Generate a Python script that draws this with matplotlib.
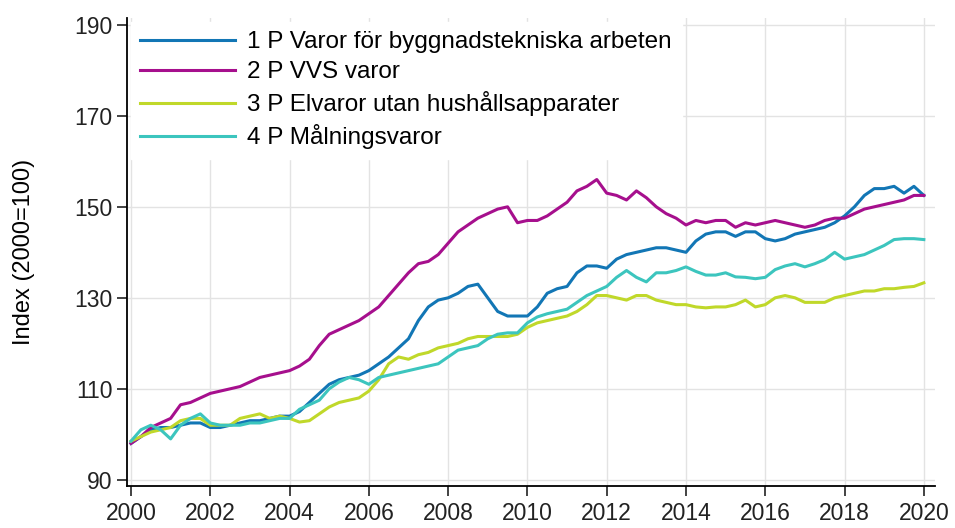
import numpy as np
import matplotlib
matplotlib.use('Agg')
import matplotlib.pyplot as plt

plt.rcParams['font.family'] = ['Liberation Sans', 'DejaVu Sans']

# quarterly readings, 2000 Q1 .. 2020 Q1
years = np.arange(81) * 0.25 + 2000

labels = ['1 P Varor för byggnadstekniska arbeten',
          '2 P VVS varor',
          '3 P Elvaror utan hushållsapparater',
          '4 P Målningsvaror']

byggvaror = [98, 99.5, 101, 101.5, 101.5, 102, 102.5, 102.5,
             101.5, 101.5, 102, 102.5, 103, 103, 103.5, 104,
             104, 105, 107, 109, 111, 112, 112.5, 113,
             114, 115.5, 117, 119, 121, 125, 128, 129.5,
             130, 131, 132.5, 133, 130, 127, 126, 126,
             126, 128, 131, 132, 132.5, 135.5, 137, 137,
             136.5, 138.5, 139.5, 140, 140.5, 141, 141, 140.5,
             140, 142.5, 144, 144.5, 144.5, 143.5, 144.5, 144.5,
             143, 142.5, 143, 144, 144.5, 145, 145.5, 146.5,
             148, 150, 152.5, 154, 154, 154.5, 153, 154.5,
             152.5]

vvs = [98, 99.5, 101.5, 102.5, 103.5, 106.5, 107, 108,
       109, 109.5, 110, 110.5, 111.5, 112.5, 113, 113.5,
       114, 115, 116.5, 119.5, 122, 123, 124, 125,
       126.5, 128, 130.5, 133, 135.5, 137.5, 138, 139.5,
       142, 144.5, 146, 147.5, 148.5, 149.5, 150, 146.5,
       147, 147, 148, 149.5, 151, 153.5, 154.5, 156,
       153, 152.5, 151.5, 153.5, 152, 150, 148.5, 147.5,
       146, 147, 146.5, 147, 147, 145.5, 146.5, 146,
       146.5, 147, 146.5, 146, 145.5, 146, 147, 147.5,
       147.5, 148.5, 149.5, 150, 150.5, 151, 151.5, 152.5,
       152.5]

elvaror = [98.5, 99.5, 100.5, 101, 101.5, 103, 103.5, 103.5,
           102, 102, 102, 103.5, 104, 104.5, 103.5, 104,
           103.5, 102.7, 103, 104.5, 106, 107, 107.5, 108,
           109.5, 112, 115.5, 117, 116.5, 117.5, 118, 119,
           119.5, 120, 121, 121.5, 121.5, 121.5, 121.5, 122,
           123.5, 124.5, 125, 125.5, 126, 127, 128.5, 130.5,
           130.5, 130, 129.5, 130.5, 130.5, 129.5, 129, 128.5,
           128.5, 128, 127.8, 128, 128, 128.5, 129.5, 128,
           128.5, 130, 130.5, 130, 129, 129, 129, 130,
           130.5, 131, 131.5, 131.5, 132, 132, 132.3, 132.5,
           133.3]

malning = [98.5, 101, 102, 101, 99, 102, 103.5, 104.5,
           102.5, 102, 102, 102, 102.5, 102.5, 103, 103.5,
           103.5, 105.5, 106.5, 107.5, 110, 111.5, 112.5, 112,
           111, 112.5, 113, 113.5, 114, 114.5, 115, 115.5,
           117, 118.5, 119, 119.5, 121, 122, 122.3, 122.3,
           124.5, 125.8, 126.5, 127, 127.5, 129, 130.5, 131.5,
           132.5, 134.5, 136, 134.5, 133.5, 135.5, 135.5, 136,
           136.8, 135.8, 135, 135, 135.5, 134.6, 134.5, 134.2,
           134.5, 136.2, 137, 137.5, 136.8, 137.5, 138.4, 140,
           138.5, 139, 139.5, 140.5, 141.5, 142.8, 143, 143,
           142.8]

colors = ['#1276b5', '#a60f8d', '#c0d82a', '#3cc5be']

fig = plt.figure(figsize=(9.55, 5.28), dpi=100)
ax = fig.add_axes([0.133, 0.080, 0.846, 0.886])

for series, lab, col in zip([byggvaror, vvs, elvaror, malning], labels, colors):
    ax.plot(years, series, color=col, lw=2.2, label=lab)

ax.set_xlim(1999.9, 2020.28)
ax.set_ylim(88.7, 191.5)
ax.set_xticks(range(2000, 2021, 2))
ax.set_yticks(range(90, 191, 20))
ax.grid(True, color='#e3e3e3', lw=1.0)
ax.set_axisbelow(True)
for s in ['top', 'right']:
    ax.spines[s].set_visible(False)
for s in ['left', 'bottom']:
    ax.spines[s].set_linewidth(1.3)
ax.tick_params(labelsize=16.5, length=7, width=1.2, colors='#222222')
ax.tick_params(axis='y', pad=3.5)
ax.tick_params(axis='x', pad=5)
ax.set_ylabel('Index (2000=100)', fontsize=17)
ax.yaxis.set_label_coords(-0.114, 0.5)

leg = ax.legend(loc='upper left', fontsize=17.5, frameon=True, framealpha=1,
                edgecolor='white', fancybox=False, handlelength=3.9,
                handletextpad=0.5, labelspacing=0.33, borderaxespad=0.15,
                borderpad=0.4)

fig.savefig('out.png', dpi=100)
